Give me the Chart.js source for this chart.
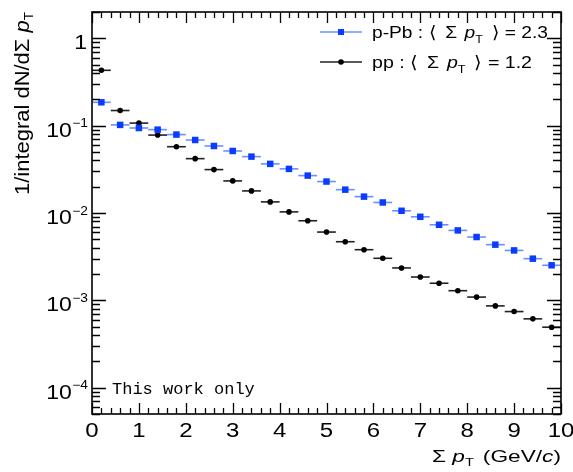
<!DOCTYPE html>
<html>
<head>
<meta charset="utf-8">
<script src="https://cdn.jsdelivr.net/npm/chart.js@4/dist/chart.umd.min.js"></script>
<style>
html,body{margin:0;padding:0;background:#fff}
canvas{display:block}
</style>
</head>
<body>
<canvas id="myChart" width="573" height="472"></canvas>
<script>
// bins of sum pT (GeV/c), 0.4 wide
var binCenters = [0.2,0.6,1.0,1.4,1.8,2.2,2.6,3.0,3.4,3.8,4.2,4.6,5.0,5.4,5.8,6.2,6.6,7.0,7.4,7.8,8.2,8.6,9.0,9.4,9.8];
var binHalfWidth = 0.2;
var ppbValues = [0.185,0.102,0.094,0.090,0.079,0.0685,0.0585,0.0513,0.0442,0.0365,0.032,0.0268,0.0229,0.0185,0.0154,0.0132,0.0106,0.00905,0.00733,0.00632,0.00531,0.00434,0.00373,0.0030,0.00252];
var ppValues = [0.43,0.149,0.107,0.078,0.0574,0.0419,0.0314,0.0233,0.0179,0.0134,0.0103,0.00815,0.00605,0.00469,0.0038,0.00303,0.00235,0.00185,0.00157,0.00129,0.00109,0.000864,0.000744,0.000614,0.000493];
var seriesNames = ['p-Pb','pp'];
var meanSumPt = ['2.3','1.2'];
var xTickLabels = ['0','1','2','3','4','5','6','7','8','9','10'];
var yDecades = [0,-1,-2,-3,-4];

var FONT = '"Liberation Sans", Arial, sans-serif';
var blueMarker = '#0a3cff';
var blueBar = '#6a90ff';

function toPoints(vals){
    var pts = [];
    for(var i = 0; i < binCenters.length; i++){
        pts.push({x: binCenters[i], y: vals[i]});
    }
    return pts;
}

// text made of pieces (italic p, subscript T ...), stretched sideways by sx
function richWidth(ctx, parts){
    var w = 0;
    parts.forEach(function(p){
        ctx.font = (p.it ? 'italic ' : '') + p.size + 'px ' + FONT;
        w += ctx.measureText(p.t).width + (p.gap || 0);
    });
    return w;
}
function drawRich(ctx, parts, x, y, align, sx){
    var w = richWidth(ctx, parts);
    ctx.save();
    ctx.translate(x, y);
    ctx.scale(sx, 1);
    var cx = align === 'right' ? -w : (align === 'center' ? -w / 2 : 0);
    ctx.textAlign = 'left';
    ctx.textBaseline = 'alphabetic';
    parts.forEach(function(p){
        ctx.font = (p.it ? 'italic ' : '') + p.size + 'px ' + FONT;
        ctx.fillText(p.t, cx, p.dy || 0);
        cx += ctx.measureText(p.t).width + (p.gap || 0);
    });
    ctx.restore();
}
function drawFit(ctx, parts, x, y, align, target){
    drawRich(ctx, parts, x, y, align, target / richWidth(ctx, parts));
}

var rootStyle = {
    id: 'rootStyle',
    beforeDatasetsDraw: function(chart){
        var ctx = chart.ctx, xs = chart.scales.x, ys = chart.scales.y, a = chart.chartArea;
        ctx.save();
        ctx.beginPath();
        ctx.rect(a.left, a.top, a.right - a.left, a.bottom - a.top);
        ctx.clip();
        chart.data.datasets.forEach(function(ds){
            ctx.strokeStyle = ds.barColor;
            ctx.lineWidth = 1.6;
            ds.data.forEach(function(p){
                var y = ys.getPixelForValue(p.y);
                ctx.beginPath();
                ctx.moveTo(xs.getPixelForValue(p.x - binHalfWidth), y);
                ctx.lineTo(xs.getPixelForValue(p.x + binHalfWidth), y);
                ctx.stroke();
            });
        });
        ctx.restore();
    },
    afterDraw: function(chart){
        var ctx = chart.ctx, xs = chart.scales.x, ys = chart.scales.y, a = chart.chartArea;
        ctx.save();
        ctx.strokeStyle = '#000';
        ctx.fillStyle = '#000';
        ctx.lineWidth = 1.3;

        // x ticks, bottom and top
        ctx.beginPath();
        for(var k = 0; k <= 50; k++){
            var v = k * 0.2;
            var px = Math.round(xs.getPixelForValue(v)) + 0.5;
            var len = (k % 5 === 0) ? 11 : 6;
            ctx.moveTo(px, a.bottom); ctx.lineTo(px, a.bottom - len);
            ctx.moveTo(px, a.top); ctx.lineTo(px, a.top + len);
        }
        // y ticks, left and right
        for(var d = -5; d <= 0; d++){
            for(var m = 1; m <= 9; m++){
                var val = m * Math.pow(10, d);
                if(val < ys.min || val > ys.max) continue;
                var py = Math.round(ys.getPixelForValue(val)) + 0.5;
                var l = (m === 1) ? 14 : 8;
                ctx.moveTo(a.left, py); ctx.lineTo(a.left + l, py);
                ctx.moveTo(a.right, py); ctx.lineTo(a.right - l, py);
            }
        }
        ctx.stroke();

        // frame
        ctx.lineWidth = 1.6;
        ctx.strokeRect(a.left, a.top, a.right - a.left, a.bottom - a.top);

        // x tick labels
        xTickLabels.forEach(function(lab, i){
            drawRich(ctx, [{t:lab, size:20}], xs.getPixelForValue(i), 437, 'center', 1.2);
        });

        // y tick labels 10^n
        yDecades.forEach(function(d){
            var py = ys.getPixelForValue(Math.pow(10, d));
            if(d === 0){
                drawRich(ctx, [{t:'1', size:20}], 87, py + 11, 'right', 1.15);
            } else {
                drawRich(ctx, [{t:'\u2212' + (-d), size:12}], 88, py + 1.5, 'right', 1.15);
                ctx.font = '12px ' + FONT;
                var sw = ctx.measureText('\u2212' + (-d)).width * 1.15;
                drawRich(ctx, [{t:'10', size:20}], 88 - sw - 0.5, py + 11, 'right', 1.15);
            }
        });

        // axis titles
        drawFit(ctx, [
            {t:'\u03A3 ', size:17},
            {t:'p', size:17, it:true},
            {t:'T', size:11, dy:4, gap:2},
            {t:' (GeV/', size:17},
            {t:'c', size:17, it:true},
            {t:')', size:17}
        ], 561, 462, 'right', 129);

        ctx.save();
        ctx.translate(29, 12);
        ctx.rotate(-Math.PI / 2);
        drawFit(ctx, [
            {t:'1/integral dN/d\u03A3 ', size:21},
            {t:'p', size:21, it:true},
            {t:'T', size:13, dy:4}
        ], 0, 0, 'right', 183);
        ctx.restore();

        // legend
        var rows = [38, 68];
        chart.data.datasets.forEach(function(ds, i){
            var y = rows[i] - 6;
            ctx.strokeStyle = ds.barColor;
            ctx.lineWidth = 1.6;
            ctx.beginPath();
            ctx.moveTo(320, y); ctx.lineTo(362, y);
            ctx.stroke();
            ctx.fillStyle = ds.backgroundColor;
            if(ds.pointStyle === 'rect'){
                ctx.fillRect(341 - 3, y - 3, 6, 6);
            } else {
                ctx.beginPath();
                ctx.arc(341, y, 2.8, 0, Math.PI * 2);
                ctx.fill();
            }
            ctx.fillStyle = '#000';
            drawFit(ctx, [
                {t:seriesNames[i] + ' : ', size:17},
                {t:'\u27E8 ', size:17, gap:3},
                {t:'\u03A3 ', size:17, gap:2},
                {t:'p', size:17, it:true},
                {t:'T', size:11, dy:5, gap:3},
                {t:' \u27E9 = ' + meanSumPt[i], size:17}
            ], 372, rows[i], 'left', i === 0 ? 176 : 160);
        });

        // watermark
        ctx.font = '17px "Liberation Mono", "Courier New", monospace';
        ctx.textAlign = 'left';
        ctx.fillStyle = '#000';
        ctx.fillText('This work only', 112, 394);
        ctx.restore();
    }
};

var ctx = document.getElementById('myChart');
var myChart = new Chart(ctx, {
    type: 'scatter',
    data: {
        datasets: [{
            label: seriesNames[0],
            data: toPoints(ppbValues),
            pointStyle: 'rect',
            pointRadius: 4.6,
            borderWidth: 0,
            backgroundColor: blueMarker,
            borderColor: blueMarker,
            barColor: blueBar
        }, {
            label: seriesNames[1],
            data: toPoints(ppValues),
            pointStyle: 'circle',
            pointRadius: 2.8,
            borderWidth: 0,
            backgroundColor: '#000',
            borderColor: '#000',
            barColor: '#222'
        }]
    },
    options: {
        responsive: false,
        animation: false,
        layout: { padding: { left: 92, right: 12, top: 12, bottom: 58 } },
        plugins: {
            legend: { display: false },
            tooltip: { enabled: false }
        },
        scales: {
            x: { type: 'linear', min: 0, max: 10, display: false },
            y: { type: 'logarithmic', min: 5e-5, max: 2, display: false }
        }
    },
    plugins: [rootStyle]
});
</script>
</body>
</html>
